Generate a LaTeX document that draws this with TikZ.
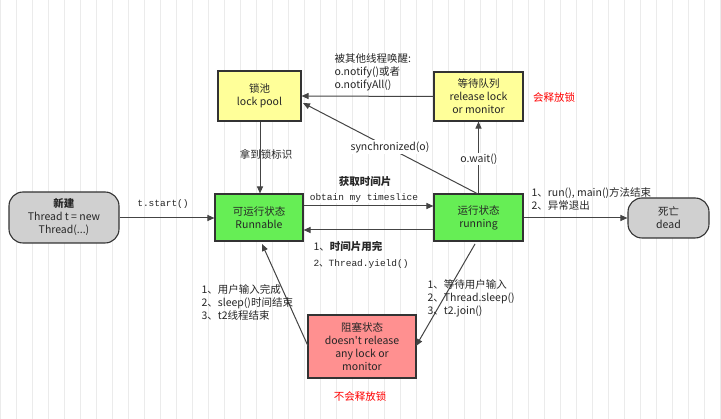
\documentclass[tikz,border=0pt]{standalone}
\usepackage{fontspec}
\setmainfont{Noto Sans CJK SC}
\newfontfamily\mono{Liberation Mono}
\newfontfamily\cjk{Noto Sans CJK SC}
\usetikzlibrary{arrows.meta}
\definecolor{ylw}{HTML}{FFFF99}
\definecolor{grn}{HTML}{66EE55}
\definecolor{pnk}{HTML}{FF9090}
\definecolor{gry}{HTML}{D0D0D0}
\definecolor{ln}{HTML}{444444}
\begin{document}
\begin{tikzpicture}[x=1pt,y=-1pt,
  every node/.style={font=\fontsize{10.5}{13}\selectfont, text=black!85},
  box/.style={draw=black!80, line width=1.1pt, align=center, inner sep=0pt},
  arr/.style={draw=ln, line width=1pt, -{Triangle[length=7pt,width=6pt]}},
  lbl/.style={align=left, anchor=west},
  mono/.style={font=\mono\fontsize{9.5}{11}\selectfont}]
\useasboundingbox (0,0) rectangle (721,419);
\fill[white] (0,0) rectangle (721,419);
\draw[black!8, line width=0.5pt, step=16] (0,0) grid (721,419);
% boxes
\node[box, fill=ylw, minimum width=83, minimum height=50] (lock) at (259.5,96) {锁池\\lock pool};
\node[box, fill=ylw, minimum width=89, minimum height=49] (wait) at (478.5,96.5) {等待队列\\release lock\\or monitor};
\node[box, fill=grn, minimum width=88, minimum height=47] (run) at (259,217.5) {可运行状态\\Runnable};
\node[box, fill=grn, minimum width=89, minimum height=47] (ing) at (478.5,217.5) {运行状态\\running};
\node[box, fill=gry, rounded corners=14, minimum width=110, minimum height=51] (new) at (64,217.5) {\textbf{新建}\\Thread t = new\\Thread(...)};
\node[box, fill=gry, rounded corners=14, minimum width=81, minimum height=40] (dead) at (668.5,218) {死亡\\dead};
\node[box, fill=pnk, minimum width=108, minimum height=63] (blk) at (362,346.5) {阻塞状态\\doesn\textquotesingle t release\\any lock or\\monitor};
\node[text=red] (r1) at (554,97) {会释放锁};
\node[text=red] (r2) at (360,396) {不会释放锁};
% connectors
\draw[arr] (new.east |- 0,218) -- (run.west |- 0,218);
\node[mono] (ts) at (163,204) {t.start()};
\draw[arr] (lock.south -| 260,0) -- (run.north -| 260,0);
\node (l1) at (266,154) {拿到锁标识};
\draw[arr] (wait.west) -- (lock.east);
\node[lbl] (l2) at (331,72) {被其他线程唤醒:\\o.notify()或者\\o.notifyAll()};
\draw[arr] (ing.north) -- (wait.south);
\node[fill=white, inner sep=1pt] (l3) at (479,159) {o.wait()};
\coordinate (s0) at (478,194);
\coordinate (s1) at (303,103);
\draw[arr] (s0) -- (s1);
\node[fill=white, inner sep=1pt] (l4) at (390,147) {synchronized(o)};
\draw[arr] (run.east |- 0,206) -- (ing.west |- 0,206);
\node (l5) at (365,182) {\textbf{获取时间片}};
\node[mono, fill=white, inner sep=0.5pt] (l6) at (364,198) {obtain my timeslice};
\draw[arr] (ing.west |- 0,230) -- (run.east |- 0,230);
\node[lbl] (l7) at (310,246) {1、\textbf{时间片用完}};
\node[lbl, font=\mono\fontsize{9.5}{11}\selectfont] (l8) at (310,264) {2{\cjk 、}Thread.yield()};
\draw[arr] (ing.east |- 0,218) -- (dead.west |- 0,218);
\node[lbl] (l9) at (528,199) {1、run(), main()方法结束\\2、异常退出};
\coordinate (b0) at (475,244);
\coordinate (b1) at (416,346);
\draw[arr] (b0) -- (b1);
\coordinate (c0) at (308,346);
\coordinate (c1) at (262,244);
\draw[arr] (c0) -- (c1);
\node[lbl] (l10) at (198,302) {1、用户输入完成\\2、sleep()时间结束\\3、t2线程结束};
\node[lbl] (l11) at (424,298) {1、等待用户输入\\2、Thread.sleep()\\3、t2.join()};
\end{tikzpicture}
\end{document}
